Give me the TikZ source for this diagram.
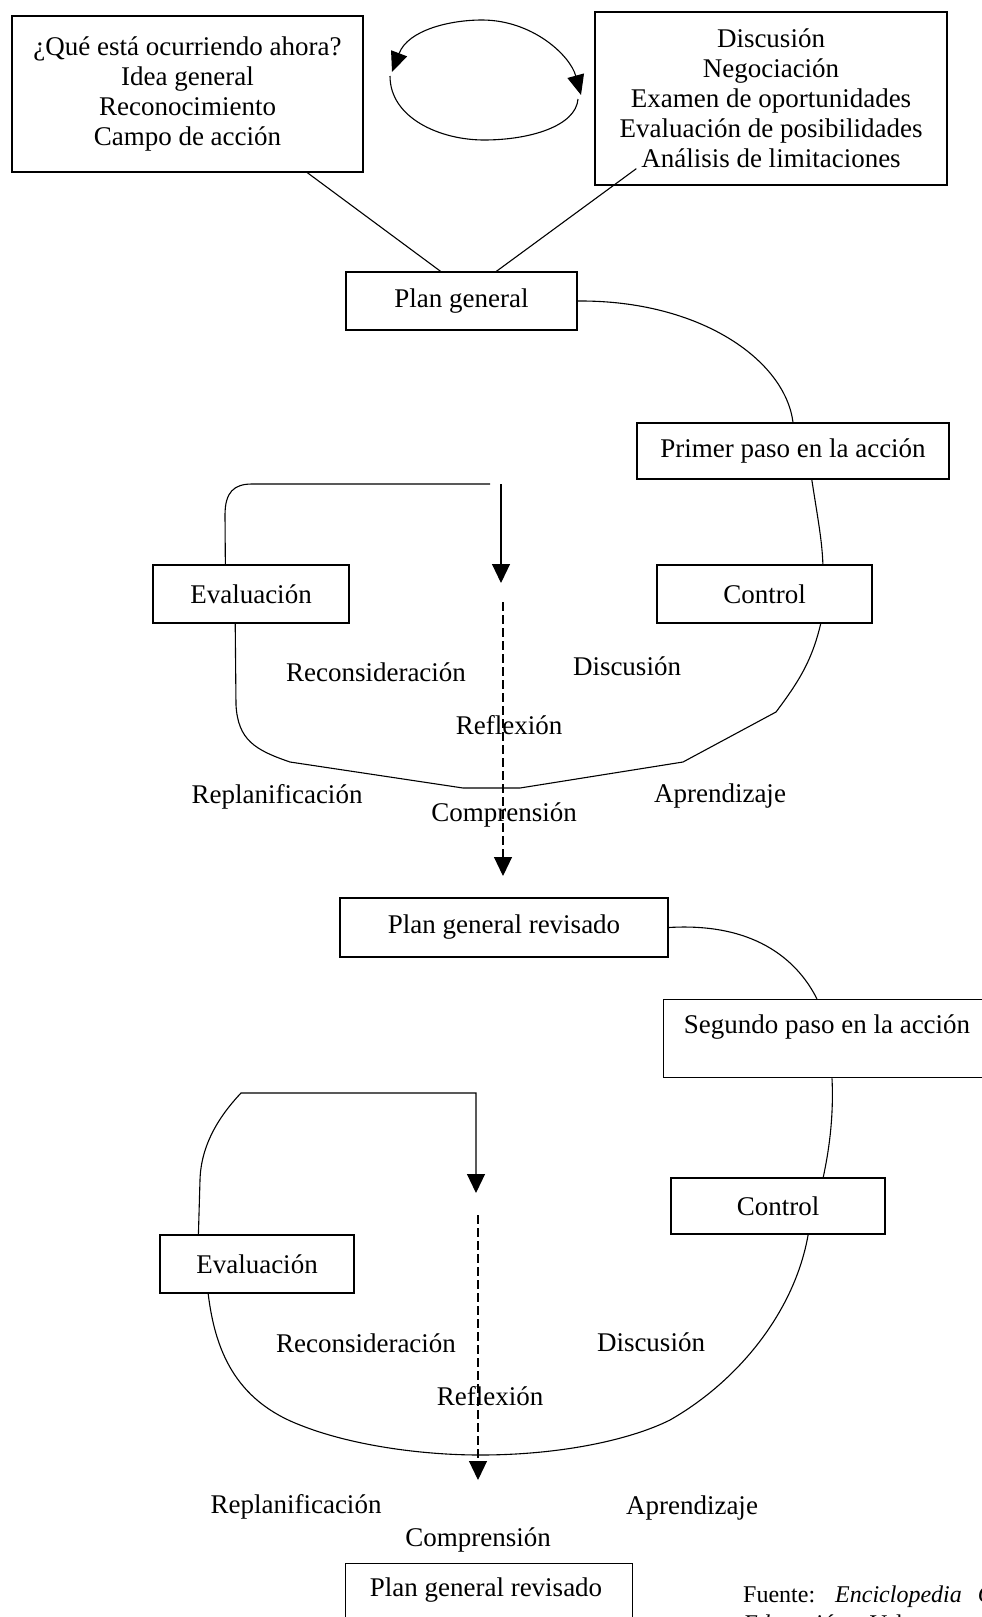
\documentclass[tikz,border=0pt]{standalone}
\usepackage{fontspec}
\setmainfont{Liberation Serif}
\usetikzlibrary{arrows.meta,calc}
\begin{document}
\begin{tikzpicture}[x=1pt,y=-1pt,
  every node/.style={font=\fontsize{27}{30}\selectfont},
  box/.style={draw, line width=1.3pt, inner sep=0pt, align=center},
  lbl/.style={inner sep=0pt, text height=19pt, text depth=6pt},
  link/.style={line width=1.1pt},
  arrowed/.style={-{Triangle[length=19pt,width=18pt]}},
  smalltips/.style={{Triangle[length=20pt,width=17pt]}-{Triangle[length=20pt,width=17pt]}},
  dashedlink/.style={line width=1.1pt, dash pattern=on 9pt off 4pt},
  note/.style={inner sep=0pt, anchor=west, font=\fontsize{24}{26}\selectfont},
]
\useasboundingbox (0,0) rectangle (982,1617);
\clip (0,0) rectangle (982,1617);

% ---------- top: diagnosis and negotiation ----------
\node[box, minimum width=351pt, minimum height=156pt] (tl) at (187.5,94)
  {¿Qué está ocurriendo ahora?\\Idea general\\Reconocimiento\\Campo de acción};
\node[box, minimum width=352pt, minimum height=173pt] (tr) at (771,98.5)
  {Discusión\\Negociación\\Examen de oportunidades\\Evaluación de posibilidades\\Análisis de limitaciones};

% exchange loop between the two boxes
\coordinate (cycA) at (392,72);
\coordinate (cycB) at (581,95);
\coordinate (cycC) at (390,76);
\coordinate (cycD) at (578,99);
\draw[link, smalltips] (cycA) .. controls (408,30) and (450,20) .. (482,20)
  .. controls (532,20) and (570,55) .. (cycB);
\draw[link] (cycC) .. controls (390,118) and (440,140) .. (484,140)
  .. controls (530,140) and (576,126) .. (cycD);

\node[box, minimum width=231pt, minimum height=58pt] (pg) at (461.5,301) {Plan general};

\draw[link] ($(tl.south west)!0.84!(tl.south east)$) -- ($(pg.north west)!0.41!(pg.north east)$);
\draw[link] ($(tr.south west)+(42,-17)$) -- ($(pg.north west)!0.65!(pg.north east)$);

% ---------- first cycle ----------
\node[box, minimum width=312pt, minimum height=56pt] (pp1) at (793,451) {Primer paso en la acción};
\node[box, minimum width=215pt, minimum height=58pt] (ctl1) at (764.5,594) {Control};
\node[box, minimum width=196pt, minimum height=58pt] (ev1) at (251,594) {Evaluación};
\node[box, minimum width=328pt, minimum height=59pt] (pgr1) at (504,927.5) {Plan general revisado};

\draw[link] (pg.east) .. controls (700,300) and (785,360) .. (pp1.north);
\draw[link] ($(pp1.south west)!0.56!(pp1.south east)$) .. controls (818,520) and (822,540)
  .. ($(ctl1.north west)!0.77!(ctl1.north east)$);

\draw[link] ($(ev1.north west)!0.37!(ev1.north east)$) -- (225,515)
  .. controls (225,492) and (234,484) .. (252,484) -- (490,484);
\coordinate (a1s) at (501,484);
\coordinate (a1e) at (501,583);
\draw[link, arrowed] (a1s) -- (a1e);

\coordinate (d1s) at (503,602);
\coordinate (d1e) at (503,876);
\draw[dashedlink, arrowed] (d1s) -- (d1e);

\draw[link] ($(ev1.south west)!0.42!(ev1.south east)$) -- (236,705)
  .. controls (238,740) and (255,750) .. (290,762) -- (463,788) -- (520,788)
  -- (683,762) -- (776,712) .. controls (800,680) and (812,660)
  .. ($(ctl1.south west)!0.76!(ctl1.south east)$);

\node[lbl] (rc1) at (376,675) {Reconsideración};
\node[lbl] (ds1) at (627,669) {Discusión};
\node[lbl] (rf1) at (509,728) {Reflexión};
\node[lbl] (rp1) at (277,797) {Replanificación};
\node[lbl] (ap1) at (720,796) {Aprendizaje};
\node[lbl] (cp1) at (504,815) {Comprensión};

% ---------- second cycle ----------
\node[box, anchor=north west, minimum width=360pt, minimum height=78pt] (seg) at (663,999) {};
\node[lbl] (segtxt) at (827,1027) {Segundo paso en la acción};
\node[box, minimum width=214pt, minimum height=56pt] (ctl2) at (778,1206) {Control};
\node[box, minimum width=194pt, minimum height=58pt] (ev2) at (257,1264) {Evaluación};
\node[box, anchor=north west, minimum width=287pt, minimum height=90pt] (pgr2) at (345,1563) {};
\node[lbl] (pgr2txt) at (486,1590) {Plan general revisado};

\draw[link] (pgr1.east) .. controls (760,922) and (800,965) .. ($(seg.north west)+(154,0)$);
\draw[link] ($(seg.south west)+(169,0)$) .. controls (834,1120) and (828,1155)
  .. ($(ctl2.north west)!0.71!(ctl2.north east)$);

\coordinate (a2e) at (476,1193);
\draw[link, arrowed] ($(ev2.north west)!0.2!(ev2.north east)$) -- (200,1180)
  .. controls (201,1140) and (225,1110) .. (241,1093) -- (476,1093) -- (a2e);

\coordinate (d2s) at (478,1215);
\coordinate (d2e) at (478,1480);
\draw[dashedlink, arrowed] (d2s) -- (d2e);

\draw[link] ($(ev2.south west)!0.25!(ev2.south east)$) .. controls (215,1350) and (235,1400)
  .. (300,1425) .. controls (350,1445) and (420,1455) .. (480,1455)
  .. controls (560,1455) and (630,1440) .. (670,1420)
  .. controls (740,1380) and (795,1310) .. ($(ctl2.south west)!0.64!(ctl2.south east)$);

\node[lbl] (rc2) at (366,1346) {Reconsideración};
\node[lbl] (ds2) at (651,1345) {Discusión};
\node[lbl] (rf2) at (490,1399) {Reflexión};
\node[lbl] (rp2) at (296,1507) {Replanificación};
\node[lbl] (ap2) at (692,1508) {Aprendizaje};
\node[lbl] (cp2) at (478,1540) {Comprensión};

% ---------- source note ----------
\node[note] (src1) at (743,1597) {Fuente:\hspace{20pt}\textit{Enciclopedia}\hspace{16pt}\textit{General de la}};
\node[note] (src2) at (743,1623) {\textit{Educación}.\hspace{18pt}Volumen};
\end{tikzpicture}
\end{document}
